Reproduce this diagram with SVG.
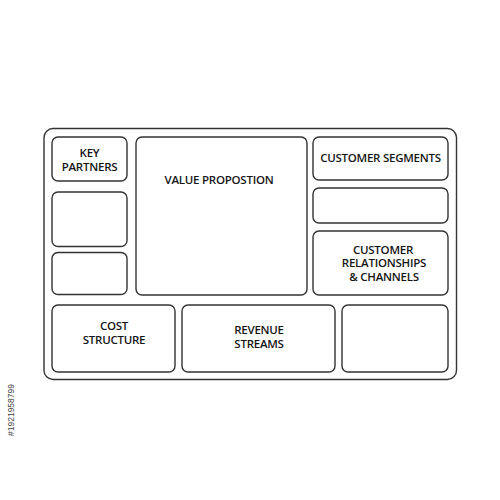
<svg xmlns="http://www.w3.org/2000/svg" width="500" height="500" viewBox="0 0 500 500">
<style>
.box{fill:#fff;stroke:#333;stroke-width:1.4}
.t{font-family:"Open Sans","Liberation Sans",sans-serif;font-size:11.5px;font-weight:600;fill:#151515;text-anchor:middle;letter-spacing:-0.25px}
.id{font-family:"Liberation Sans",sans-serif;font-size:8.5px;fill:#444;text-anchor:middle}
</style>
<rect width="500" height="500" fill="#fff"/>
<g id="canvas"><rect class="box" x="44" y="128.5" width="412.5" height="251" rx="9"/></g>
<g id="key-partners"><rect class="box" x="52" y="137" width="75" height="44" rx="6"/>
<text class="t" x="89.5" y="157.3">KEY</text><text class="t" x="89.5" y="170.8">PARTNERS</text></g>
<g id="key-activities"><rect class="box" x="52" y="192" width="75" height="54.5" rx="6"/></g>
<g id="key-resources"><rect class="box" x="52" y="252.5" width="75" height="42" rx="6"/></g>
<g id="value-proposition"><rect class="box" x="136" y="137" width="171" height="158" rx="6"/>
<text class="t" x="219" y="184">VALUE PROPOSTION</text></g>
<g id="customer-segments"><rect class="box" x="313" y="137" width="135" height="43" rx="6"/>
<text class="t" x="380.5" y="162">CUSTOMER SEGMENTS</text></g>
<g id="blank-right"><rect class="box" x="313" y="188" width="135" height="35" rx="6"/></g>
<g id="customer-relationships"><rect class="box" x="313" y="231" width="135" height="64" rx="6"/>
<text class="t" x="383" y="253.5">CUSTOMER</text><text class="t" x="384" y="267.3">RELATIONSHIPS</text><text class="t" x="384" y="281">&amp; CHANNELS</text></g>
<g id="cost-structure"><rect class="box" x="52" y="305" width="123" height="67" rx="6"/>
<text class="t" x="114" y="330">COST</text><text class="t" x="114" y="343.5">STRUCTURE</text></g>
<g id="revenue-streams"><rect class="box" x="182" y="305" width="153" height="67" rx="6"/>
<text class="t" x="259" y="334.3">REVENUE</text><text class="t" x="259" y="347.8">STREAMS</text></g>
<g id="blank-bottom"><rect class="box" x="342" y="305" width="106" height="67" rx="6"/></g>
<g id="connectors"></g>
<text class="id" transform="translate(14,410) rotate(-90)">#1921958799</text>
</svg>
